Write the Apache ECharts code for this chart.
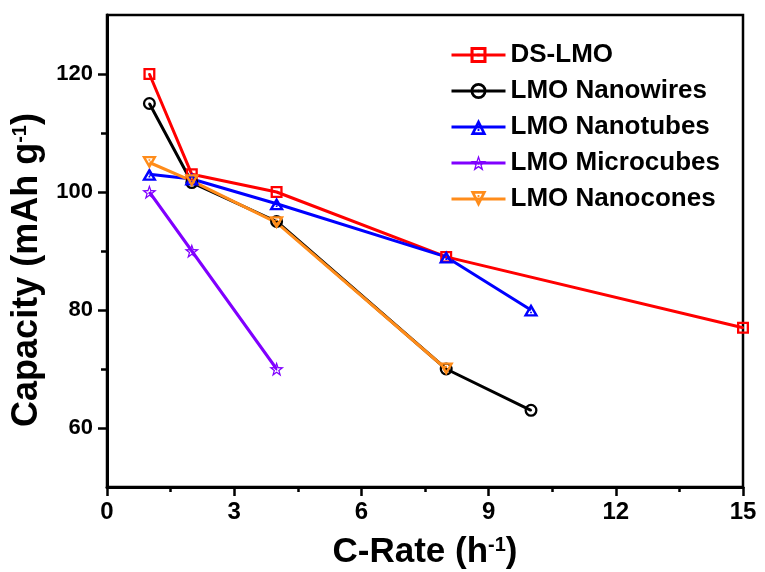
<!DOCTYPE html>
<html>
<head>
<meta charset="utf-8">
<script src="https://cdn.jsdelivr.net/npm/echarts@6/dist/echarts.min.js"></script>
<style>html,body{margin:0;padding:0;background:#fff;}#c{width:765px;height:572px;}</style>
</head>
<body>
<div id="c"></div>
<script>
// Data
const seriesNames = ['DS-LMO', 'LMO Nanowires', 'LMO Nanotubes', 'LMO Microcubes', 'LMO Nanocones'];
const dsLmo = [[1, 120], [2, 103], [4, 100], [8, 89], [15, 77]];
const nanowires = [[1, 115], [2, 101.6], [4, 95], [8, 70], [10, 63]];
const nanotubes = [[1, 103], [2, 102.2], [4, 98], [8, 89], [10, 80]];
const microcubes = [[1, 100], [2, 90], [4, 70]];
const nanocones = [[1, 105], [2, 101.9], [4, 94.8], [8, 70]];
const yMajorTicks = [60, 80, 100, 120];
const yMinorTicks = [70, 90, 110];

const FONT = '"Liberation Sans", Arial, sans-serif';
const colors = ['#ff0000', '#000000', '#0000ff', '#8000ff', '#ff8c1a'];

const symSquare = 'path://M0,0 H12 V12 H0 Z M2.3,2.3 V9.7 H9.7 V2.3 Z M5,5 H7 V7 H5 Z';
const symCircle = 'path://M0,6 A6,6 0 1,1 12,6 A6,6 0 1,1 0,6 Z M2.1,6 A3.9,3.9 0 1,0 9.9,6 A3.9,3.9 0 1,0 2.1,6 Z M5,6 A1,1 0 1,1 7,6 A1,1 0 1,1 5,6 Z';
const symTriUp = 'path://M6,0 L12,11 L0,11 Z M6,4.3 L3.3,9.1 L8.7,9.1 Z M5.3,6.9 H6.7 V8.2 H5.3 Z';
const symTriDown = 'path://M0,0 L12,0 L6,11 Z M3.3,1.9 L6,6.7 L8.7,1.9 Z M5.3,2.8 H6.7 V4.1 H5.3 Z';
const symStar = 'path://M6,0.3 L7.411,4.358 L11.706,4.446 L8.282,7.042 L9.527,11.154 L6,8.7 L2.473,11.154 L3.718,7.042 L0.294,4.446 L4.589,4.358 Z ' +
  'M6,3.0 L5.26,5.27 L3.0,5.3 L4.8,6.67 L4.15,8.84 L6,7.55 L7.85,8.84 L7.2,6.67 L9.0,5.3 L6.74,5.27 Z M5.5,5.8 H6.5 V6.8 H5.5 Z';

function mk(name, data, color, symbol, size) {
  return {
    name: name, type: 'line', data: data,
    symbol: symbol, symbolSize: size,
    lineStyle: { color: color, width: 3 },
    itemStyle: { color: color, borderWidth: 0 },
    emphasis: { disabled: true },
    z: 2
  };
}

const chart = echarts.init(document.getElementById('c'), null, { renderer: 'canvas' });
chart.setOption({
  animation: false,
  backgroundColor: '#fff',
  grid: { left: 107, right: 22, top: 15, bottom: 85, show: true, borderColor: '#000', borderWidth: 2.5, backgroundColor: 'transparent', outerBoundsMode: 'none', containLabel: false },
  legend: {
    orient: 'vertical', left: 445, top: 37,
    itemWidth: 54, itemHeight: 20, itemGap: 10,
    lineStyle: { width: 3 },
    textStyle: { fontFamily: FONT, fontWeight: 'bold', fontSize: 26, color: '#000' },
    data: seriesNames
  },
  xAxis: {
    type: 'value', min: 0, max: 15, interval: 3,
    name: 'C-Rate (h{sup|-1})', nameLocation: 'middle', nameGap: 48,
    nameTextStyle: { fontFamily: FONT, fontWeight: 'bold', fontSize: 35, color: '#000',
      rich: { sup: { fontFamily: FONT, fontWeight: 'bold', fontSize: 20, color: '#000', verticalAlign: 'top', padding: [0,0,14,0] } } },
    axisLine: { lineStyle: { color: '#000', width: 3 } },
    axisTick: { length: 9, lineStyle: { width: 2.5, color: '#000' } },
    minorTick: { show: true, splitNumber: 2, length: 5, lineStyle: { width: 2.5, color: '#000' } },
    axisLabel: { fontFamily: FONT, fontWeight: 'bold', fontSize: 24, color: '#000', margin: 13 },
    splitLine: { show: false }
  },
  yAxis: [{
    type: 'value', min: 50, max: 130,
    name: 'Capacity (mAh g{sup|-1})', nameLocation: 'middle', nameGap: 58,
    nameTextStyle: { fontFamily: FONT, fontWeight: 'bold', fontSize: 36, color: '#000', padding: [0, 38, 0, 0],
      rich: { sup: { fontFamily: FONT, fontWeight: 'bold', fontSize: 20, color: '#000', padding: [0,0,14,0] } } },
    axisLine: { show: true, lineStyle: { color: '#000', width: 3 } },
    axisTick: { show: true, length: 9, customValues: yMajorTicks, lineStyle: { width: 2.5, color: '#000' } },
    axisLabel: { customValues: yMajorTicks, fontFamily: FONT, fontWeight: 'bold', fontSize: 22, color: '#000', margin: 14 },
    splitLine: { show: false }
  }, {
    type: 'value', min: 50, max: 130, position: 'left',
    axisLine: { show: false },
    axisTick: { show: true, length: 6, customValues: yMinorTicks, lineStyle: { width: 2.5, color: '#000' } },
    axisLabel: { show: false },
    splitLine: { show: false }
  }],
  series: [
    mk(seriesNames[0], dsLmo, colors[0], symSquare, 12),
    mk(seriesNames[1], nanowires, colors[1], symCircle, 13),
    mk(seriesNames[2], nanotubes, colors[2], symTriUp, [15, 13]),
    mk(seriesNames[3], microcubes, colors[3], symStar, 15),
    mk(seriesNames[4], nanocones, colors[4], symTriDown, [15, 13])
  ]
});
</script>
</body>
</html>
